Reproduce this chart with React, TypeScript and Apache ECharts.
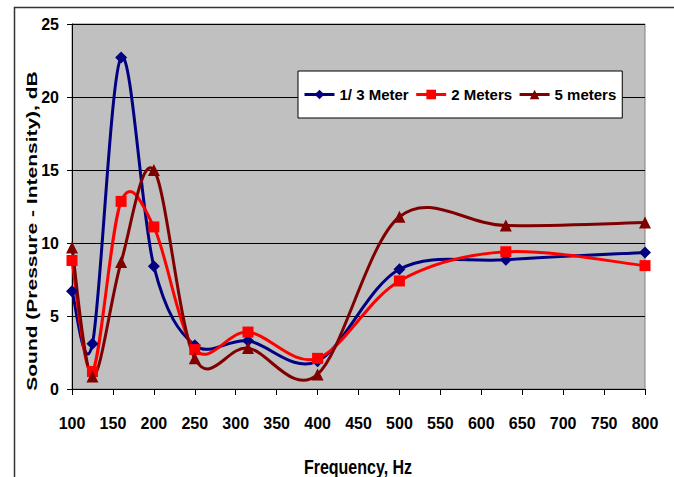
import React, { useEffect, useRef } from "react";
import * as echarts from "echarts";

const freq = [100, 125, 160, 200, 250, 315, 400, 500, 630, 800];
const oneThirdMeter = [6.7, 3.1, 22.7, 8.4, 3.0, 3.3, 1.9, 8.2, 8.85, 9.35];
const twoMeters = [8.8, 1.2, 12.85, 11.1, 2.7, 3.9, 2.1, 7.4, 9.4, 8.45];
const fiveMeters = [9.7, 0.85, 8.7, 15.0, 2.1, 2.8, 1.0, 11.8, 11.2, 11.4];
const seriesNames = ["1/ 3 Meter", "2 Meters", "5 meters"];
const seriesColors = ["#000080", "#FF0000", "#800000"];
const xTitle = "Frequency, Hz";
const yTitle = "Sound (Pressure - Intensity), dB";

const FONT = "'Liberation Sans', Arial, sans-serif";

export default function App() {
  const ref = useRef<HTMLDivElement>(null);
  useEffect(() => {
    if (!ref.current) return;
    const chart = echarts.init(ref.current, null, { renderer: "svg" });
    const pairs = (ys: number[]) => freq.map((f, i) => [f, ys[i]]);

    // Smoothed curve (Excel-like Catmull-Rom) through the data, positioned via the axis scales
    const curve = (name: string, ys: number[], color: string) => ({
      name: name + " curve",
      type: "custom",
      coordinateSystem: "cartesian2d",
      data: pairs(ys),
      encode: { x: 0, y: 1 },
      z: 2,
      silent: true,
      renderItem: (params: any, api: any) => {
        if (params.dataIndex !== 0) return null;
        const p = freq.map((f, i) => api.coord([f, ys[i]]));
        const n = p.length;
        let d = `M${p[0][0]},${p[0][1]}`;
        for (let i = 0; i < n - 1; i++) {
          const p0 = p[Math.max(i - 1, 0)];
          const p1 = p[i];
          const p2 = p[i + 1];
          const p3 = p[Math.min(i + 2, n - 1)];
          const c1x = p1[0] + (p2[0] - p0[0]) / 6;
          const c1y = p1[1] + (p2[1] - p0[1]) / 6;
          const c2x = p2[0] - (p3[0] - p1[0]) / 6;
          const c2y = p2[1] - (p3[1] - p1[1]) / 6;
          d += ` C${c1x},${c1y} ${c2x},${c2y} ${p2[0]},${p2[1]}`;
        }
        return {
          type: "path",
          shape: { pathData: d },
          style: { stroke: color, lineWidth: 3, fill: "none" },
        };
      },
    });

    const markers = (name: string, ys: number[], color: string, symbol: string, size: number) => ({
      name,
      type: "line",
      data: pairs(ys),
      symbol,
      symbolSize: size,
      lineStyle: { color, width: 3, opacity: 0 },
      itemStyle: { color },
      z: 3,
    });

    chart.setOption({
      animation: false,
      backgroundColor: "#ffffff",
      grid: {
        left: 72,
        right: 29,
        top: 24,
        bottom: 88,
        show: true,
        backgroundColor: "#C0C0C0",
        borderColor: "#808080",
        borderWidth: 1,
      },
      legend: {
        left: 298,
        top: 71,
        orient: "horizontal",
        backgroundColor: "#ffffff",
        borderColor: "#000000",
        borderWidth: 1,
        borderRadius: 0,
        padding: [16, 6, 16, 5],
        itemGap: 6,
        itemWidth: 30,
        itemHeight: 12,
        textStyle: { fontFamily: FONT, fontWeight: "bold", fontSize: 15, color: "#000" },
        data: seriesNames.map((n, i) => ({
          name: n,
          lineStyle: { opacity: 1, width: 3, color: seriesColors[i] },
        })),
      },
      xAxis: {
        type: "value",
        min: 100,
        max: 800,
        interval: 50,
        axisLine: { show: true, lineStyle: { color: "#000", width: 1 } },
        axisTick: { show: true, length: 6, lineStyle: { color: "#000" } },
        splitLine: { show: false },
        axisLabel: { fontFamily: FONT, fontWeight: "bold", fontSize: 16, color: "#000", margin: 26 },
      },
      yAxis: {
        type: "value",
        min: 0,
        max: 25,
        interval: 5,
        axisLine: { show: true, lineStyle: { color: "#000", width: 1 } },
        axisTick: { show: true, length: 5, lineStyle: { color: "#000" } },
        splitLine: { show: true, lineStyle: { color: "#000", width: 1 } },
        axisLabel: { fontFamily: FONT, fontWeight: "bold", fontSize: 16, color: "#000", margin: 13 },
      },
      graphic: [
        {
          type: "rect",
          left: 12,
          top: 5,
          shape: { x: 0, y: 0, width: 661, height: 480 },
          style: { fill: "none", stroke: "#333", lineWidth: 1.5 },
          silent: true,
          z: -1,
        },
        {
          type: "text",
          x: 32,
          y: 231,
          rotation: Math.PI / 2,
          scaleX: 1.4,
          style: {
            text: yTitle,
            fontFamily: FONT,
            fontWeight: "bold",
            fontSize: 15,
            fill: "#000",
            align: "center",
            verticalAlign: "middle",
          },
        },
        {
          type: "text",
          x: 358,
          y: 467,
          scaleX: 0.8,
          style: {
            text: xTitle,
            fontFamily: FONT,
            fontWeight: "bold",
            fontSize: 20,
            fill: "#000",
            align: "center",
            verticalAlign: "middle",
          },
        },
      ],
      series: [
        curve(seriesNames[0], oneThirdMeter, seriesColors[0]),
        curve(seriesNames[1], twoMeters, seriesColors[1]),
        curve(seriesNames[2], fiveMeters, seriesColors[2]),
        markers(seriesNames[0], oneThirdMeter, seriesColors[0], "diamond", 12),
        markers(seriesNames[1], twoMeters, seriesColors[1], "rect", 11),
        markers(seriesNames[2], fiveMeters, seriesColors[2], "triangle", 12),
      ],
    });
    return () => chart.dispose();
  }, []);
  return (
    <div
      ref={ref}
      style={{ position: "fixed", left: 0, top: 0, width: 674, height: 477 }}
    />
  );
}
